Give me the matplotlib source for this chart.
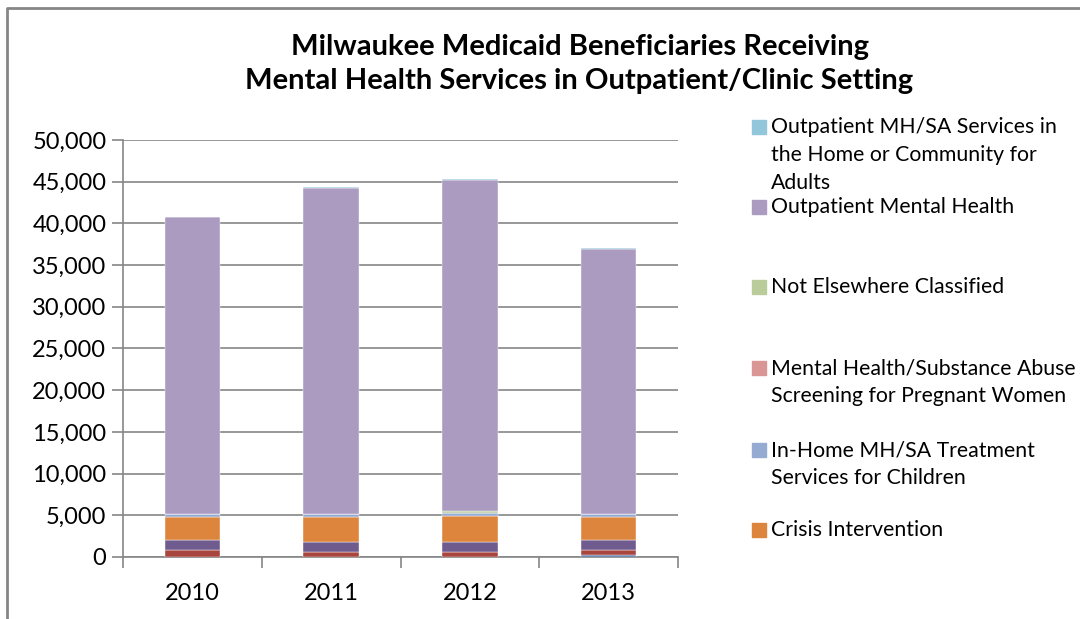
import numpy as np
import matplotlib.pyplot as plt
from matplotlib.patches import Rectangle
from matplotlib.lines import Line2D

plt.rcParams['font.family'] = ['Lato', 'DejaVu Sans']

# Data
years = ["2010", "2011", "2012", "2013"]

other = [0, 0, 0, 240]
series_red = [800, 600, 600, 560]
series_purple_dark = [1200, 1200, 1200, 1200]
crisis = [2830, 3000, 3070, 2830]
inhome_children = [320, 400, 360, 290]
pregnant = [0, 0, 0, 0]
not_elsewhere = [0, 0, 320, 0]
outpatient_mh = [35570, 39050, 39670, 31820]
home_community_adults = [80, 100, 80, 60]

# bottom -> top
stack = [
    (other, "#4F6E9F", "_nolegend_"),
    (series_red, "#A9453F", "_nolegend_"),
    (series_purple_dark, "#705B8F", "_nolegend_"),
    (crisis, "#DD843D", "Crisis Intervention"),
    (inhome_children, "#95ABD1", "In-Home MH/SA Treatment\nServices for Children"),
    (pregnant, "#D99694", "Mental Health/Substance Abuse\nScreening for Pregnant Women"),
    (not_elsewhere, "#B9CC99", "Not Elsewhere Classified"),
    (outpatient_mh, "#AB9BC0", "Outpatient Mental Health"),
    (home_community_adults, "#92C6DA", "Outpatient MH/SA Services in\nthe Home or Community for\nAdults"),
]

fig = plt.figure(figsize=(10.8, 6.19), dpi=100)
ax = fig.add_axes([0.1139, 0.1002, 0.5139, 0.6736])

x = np.arange(len(years))
bottom = np.zeros(len(years))
for vals, color, label in stack:
    ax.bar(x, vals, width=0.4, bottom=bottom, color=color, label=label,
           edgecolor="white", linewidth=0.3, zorder=3)
    bottom += np.array(vals)

ax.set_xlim(-0.5, 3.5)
ax.set_ylim(0, 50000)
ax.set_yticks(np.arange(0, 50001, 5000))
ax.set_yticklabels([f"{v:,}" for v in range(0, 50001, 5000)])
ax.yaxis.grid(True, color="#868686", linewidth=1.2, zorder=0)
ax.set_xticks(x)
ax.set_xticklabels(years)
ax.set_xticks(np.arange(-0.5, 4, 1), minor=True)
ax.tick_params(axis="x", which="major", length=0, pad=19, labelsize=17)
ax.tick_params(axis="x", which="minor", length=8, color="#868686", width=1.2)
ax.tick_params(axis="y", length=8, color="#868686", width=1.2, labelsize=17, pad=4)
for s in ["top", "right"]:
    ax.spines[s].set_visible(False)
ax.spines["left"].set_color("#868686")
ax.spines["bottom"].set_color("#868686")
ax.spines["left"].set_linewidth(1.2)
ax.spines["bottom"].set_linewidth(1.2)

fig.text(0.5366, 1 - 64 / 619, "Milwaukee Medicaid Beneficiaries Receiving\nMental Health Services in Outpatient/Clinic Setting",
         ha="center", va="center", fontsize=21, fontweight="bold", linespacing=1.38)

# legend (Excel style, reversed order, truncated)
legend_items = [
    (stack[8][1], stack[8][2], 127),
    (stack[7][1], stack[7][2], 207),
    (stack[6][1], stack[6][2], 287),
    (stack[5][1], stack[5][2], 368),
    (stack[4][1], stack[4][2], 450),
    (stack[3][1], stack[3][2], 530),
]
W, H = 1080, 619
for color, label, ypx in legend_items:
    fig.patches.append(Rectangle((752 / W, 1 - (ypx + 7) / H), 14 / W, 14 / H,
                                 transform=fig.transFigure, color=color))
    nlines = label.count("\n") + 1
    fig.text(771 / W, 1 - (ypx + (nlines - 1) * 14) / H, label, ha="left", va="center",
             fontsize=15.3, linespacing=1.48, transform=fig.transFigure)

# outer border
fig.lines.append(Line2D([6.5 / W, 6.5 / W, 1.0], [0, 1 - 7.5 / H, 1 - 7.5 / H],
                        transform=fig.transFigure, color="#868686", linewidth=2))

fig.savefig("out.png", dpi=100)
